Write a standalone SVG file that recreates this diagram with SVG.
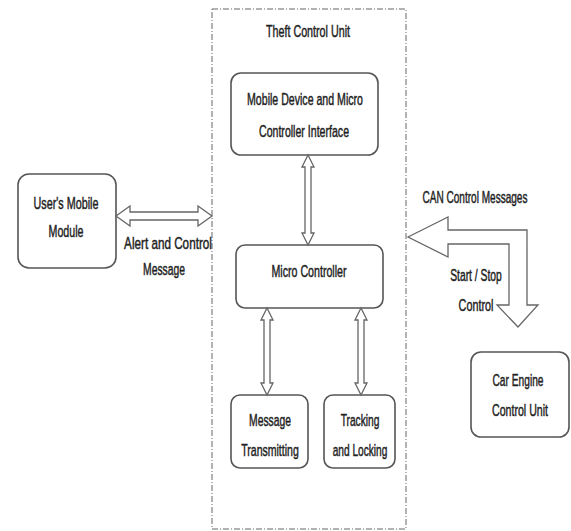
<svg xmlns="http://www.w3.org/2000/svg" width="571" height="531" viewBox="0 0 571 531">
<style>
.box{fill:#fff;stroke:#555;stroke-width:1.6}
.arr{fill:#fff;stroke:#666;stroke-width:1.3;stroke-linejoin:miter}
text{font-family:"Liberation Sans",Arial,sans-serif;font-size:16.5px;fill:#222;stroke:#222;stroke-width:0.45;text-anchor:middle}
</style>
<rect width="571" height="531" fill="#fff"/>
<g id="theft-control-unit">
<rect x="212" y="9" width="194" height="520" fill="none" stroke="#666" stroke-width="1" stroke-dasharray="6,2,1,2"/>
<text transform="translate(308,37) scale(0.65,1)">Theft Control Unit</text>
</g>
<g id="mobile-interface">
<rect class="box" x="231" y="73" width="147" height="82" rx="10"/>
<text transform="translate(305,105) scale(0.642,1)">Mobile Device and Micro</text>
<text transform="translate(304,137) scale(0.642,1)">Controller Interface</text>
</g>
<g id="micro-controller">
<rect class="box" x="236" y="245" width="147" height="63" rx="9"/>
<text transform="translate(309,277) scale(0.645,1)">Micro Controller</text>
</g>
<g id="message-transmitting">
<rect class="box" x="231" y="395" width="77" height="73" rx="9"/>
<text transform="translate(270,426) scale(0.627,1)">Message</text>
<text transform="translate(270,456) scale(0.639,1)">Transmitting</text>
</g>
<g id="tracking-locking">
<rect class="box" x="324" y="395" width="71" height="73" rx="9"/>
<text transform="translate(360,426) scale(0.618,1)">Tracking</text>
<text transform="translate(360,456) scale(0.614,1)">and Locking</text>
</g>
<g id="users-mobile">
<rect class="box" x="18" y="174" width="98" height="94" rx="11"/>
<text transform="translate(66,209) scale(0.654,1)">User's Mobile</text>
<text transform="translate(66,237) scale(0.645,1)">Module</text>
</g>
<g id="car-engine">
<rect class="box" x="471" y="352" width="98" height="85" rx="10"/>
<text transform="translate(518,386) scale(0.618,1)">Car Engine</text>
<text transform="translate(520,416) scale(0.643,1)">Control Unit</text>
</g>
<g id="connectors">
<polygon class="arr" points="116,216 130,206 130,212 198,212 198,206 212,216 198,226 198,220 130,220 130,226"/>
<polygon class="arr" points="308,155 314,167 311,167 311,233 314,233 308,245 302,233 305,233 305,167 302,167"/>
<polygon class="arr" points="267,308 273,320 270,320 270,383 273,383 267,395 261,383 264,383 264,320 261,320"/>
<polygon class="arr" points="361,308 367,320 364,320 364,383 367,383 361,395 355,383 358,383 358,320 355,320"/>
<polygon class="arr" points="408,237 448,217 448,230 527,230 527,305 538,305 518,327 497,305 509,305 509,244 448,244 448,257"/>
<text transform="translate(168,249) scale(0.709,1)">Alert and Control</text>
<text transform="translate(164,275) scale(0.627,1)">Message</text>
<text transform="translate(475,203) scale(0.609,1)">CAN Control Messages</text>
<text transform="translate(476,281) scale(0.627,1)">Start / Stop</text>
<text transform="translate(476,311) scale(0.655,1)">Control</text>
</g>
</svg>
